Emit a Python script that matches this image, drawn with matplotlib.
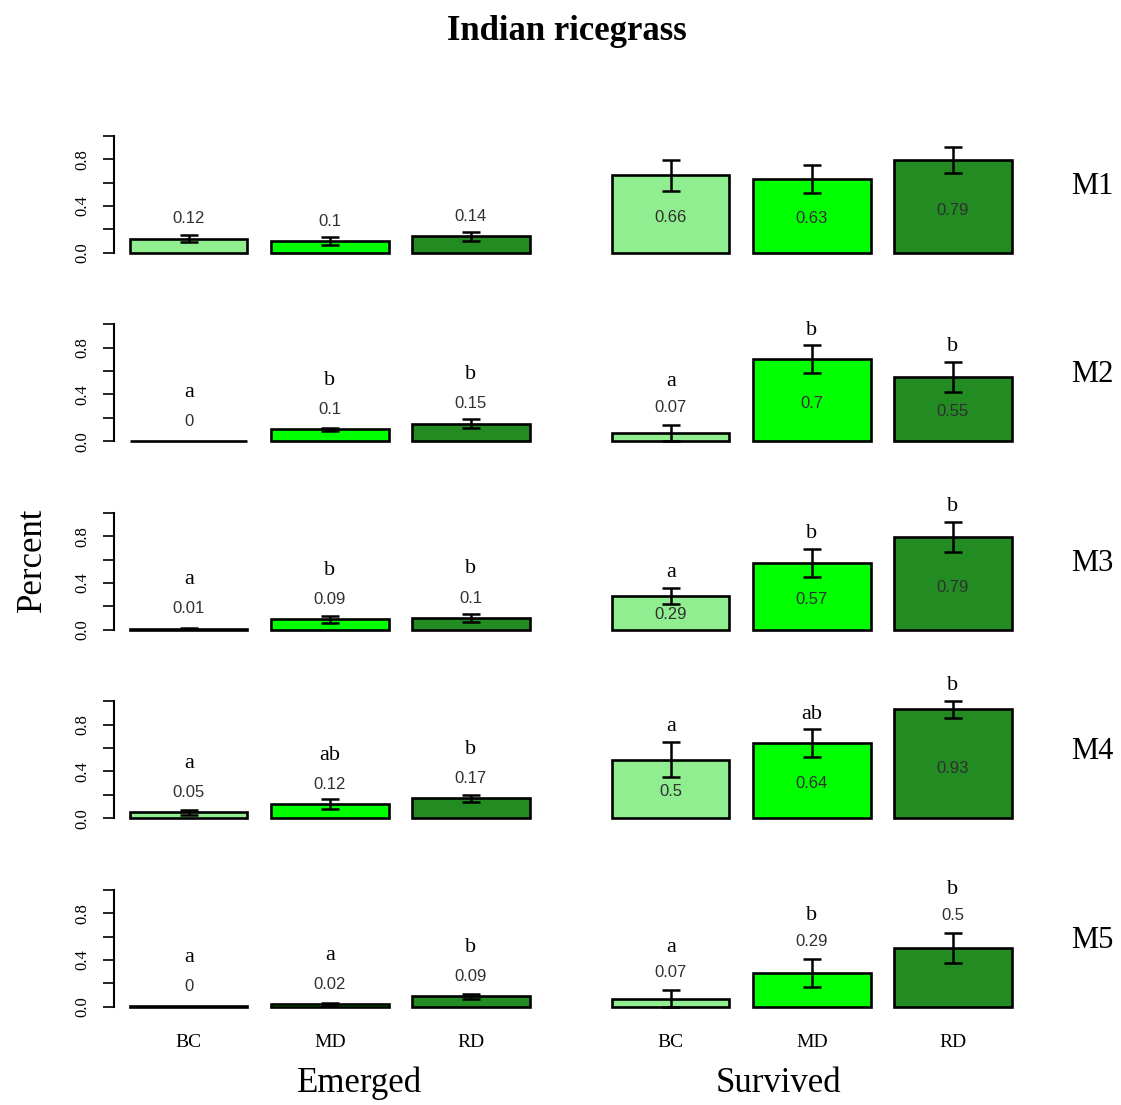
import matplotlib
matplotlib.use('Agg')
import matplotlib.pyplot as plt

# treatment groups and colours (R: lightgreen, green, forestgreen)
groups = ['BC', 'MD', 'RD']
bar_colors = ['#90EE90', '#00FF00', '#228B22']
rows = ['M1', 'M2', 'M3', 'M4', 'M5']

# emerged: mean proportion and standard error per row
emerged_mean = [[0.12, 0.10, 0.14],
                [0.00, 0.10, 0.15],
                [0.01, 0.09, 0.10],
                [0.05, 0.12, 0.17],
                [0.004, 0.02, 0.09]]
emerged_se = [[0.03, 0.03, 0.04],
              [0.00, 0.01, 0.04],
              [0.005, 0.03, 0.03],
              [0.02, 0.04, 0.03],
              [0.00, 0.01, 0.02]]
emerged_letters = [['', '', ''],
                   ['a', 'b', 'b'],
                   ['a', 'b', 'b'],
                   ['a', 'ab', 'b'],
                   ['a', 'a', 'b']]

# survived
survived_mean = [[0.66, 0.63, 0.79],
                 [0.07, 0.70, 0.55],
                 [0.29, 0.57, 0.79],
                 [0.50, 0.64, 0.93],
                 [0.07, 0.29, 0.50]]
survived_se = [[0.13, 0.12, 0.11],
               [0.07, 0.12, 0.13],
               [0.07, 0.12, 0.13],
               [0.15, 0.12, 0.07],
               [0.07, 0.12, 0.13]]
survived_letters = [['', '', ''],
                    ['a', 'b', 'b'],
                    ['a', 'b', 'b'],
                    ['a', 'ab', 'b'],
                    ['a', 'b', 'b']]
# whether the value label sits inside the bar
survived_inside = [[True, True, True],
                   [False, True, True],
                   [True, True, True],
                   [True, True, True],
                   [False, False, False]]

SERIF = 'Liberation Serif'
SANS = 'Liberation Sans'


def fmt(v):
    return f'{round(v, 2):g}'


W, H = 1121, 1105
fig = plt.figure(figsize=(W / 100, H / 100), dpi=100)

px_unit = 117.0          # pixels per unit on the y axis
row_step = 188.5
base0 = 252.7
centers = [0.7, 1.9, 3.1]
xlim = (0.064, 3.736)
ylim = (-0.04, 1.04)
panel_left = [114, 596]
panel_w = 431.5


def make_ax(col, i):
    b = base0 + i * row_step
    top = b - ylim[1] * px_unit
    bot = b - ylim[0] * px_unit
    ax = fig.add_axes([panel_left[col] / W, 1 - bot / H,
                       panel_w / W, (bot - top) / H])
    ax.set_xlim(*xlim)
    ax.set_ylim(*ylim)
    for s in ['top', 'right', 'bottom']:
        ax.spines[s].set_visible(False)
    return ax


for i in range(len(rows)):
    for col in range(2):
        ax = make_ax(col, i)
        if col == 0:
            means, ses, letters = emerged_mean[i], emerged_se[i], emerged_letters[i]
        else:
            means, ses, letters = survived_mean[i], survived_se[i], survived_letters[i]

        ax.bar(centers, means, width=1.0, color=bar_colors,
               edgecolor='black', linewidth=1.9, zorder=2)
        for x, m, s in zip(centers, means, ses):
            if s > 0:
                ax.errorbar(x, m, yerr=s, color='black', elinewidth=1.8,
                            capsize=6.8, capthick=1.8, zorder=3)

        for j, (x, m, s, let) in enumerate(zip(centers, means, ses, letters)):
            if col == 0:
                yv, yl = m + 0.17, m + 0.42
            elif survived_inside[i][j]:
                yv, yl = m * 0.46, m + s + 0.13
            else:
                yv, yl = m + s + 0.15, m + s + 0.37
            ax.text(x, yv, fmt(m), ha='center', va='center', fontsize=12,
                    family=SANS, color='#303030', zorder=4)
            if let:
                ax.text(x, yl, let, ha='center', va='center', fontsize=16,
                        family=SERIF, zorder=4)

        if col == 0:
            ax.spines['left'].set_bounds(0, 1)
            ax.spines['left'].set_linewidth(1.5)
            ax.set_yticks([0, 0.2, 0.4, 0.6, 0.8, 1.0])
            ax.set_yticklabels(['0.0', '', '0.4', '', '0.8', ''], rotation=90,
                               va='center', family=SERIF, fontsize=12)
            ax.tick_params(axis='y', length=8, width=1.2, pad=9)
        else:
            ax.spines['left'].set_visible(False)
            ax.set_yticks([])
            ax.text(4.29, 0.57, rows[i], ha='center', va='center',
                    fontsize=22, family=SERIF, clip_on=False)

        if i == len(rows) - 1:
            ax.set_xticks(centers)
            ax.set_xticklabels(groups, family=SERIF, fontsize=14)
            ax.tick_params(axis='x', length=0, pad=16)
        else:
            ax.set_xticks([])

fig.text(0.506, 1 - 32 / H, 'Indian ricegrass', ha='center', va='center',
         fontsize=25, fontweight='bold', family=SERIF)
fig.text(32 / W, 1 - 560 / H, 'Percent', ha='center', va='center',
         rotation=90, fontsize=25, family=SERIF)
fig.text(360 / W, 1 - 1083 / H, 'Emerged', ha='center', va='center',
         fontsize=25, family=SERIF)
fig.text(778 / W, 1 - 1083 / H, 'Survived', ha='center', va='center',
         fontsize=25, family=SERIF)

fig.savefig('out.png', dpi=100)
